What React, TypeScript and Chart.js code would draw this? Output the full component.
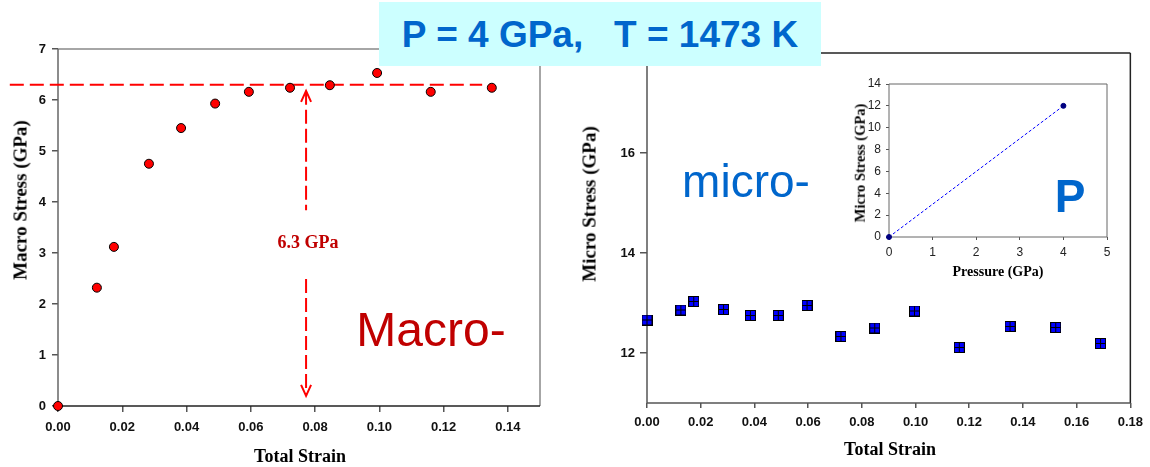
import React, { useEffect, useRef } from 'react';
import { Chart, registerables } from 'chart.js';

Chart.register(...registerables);

// Macro stress vs. total strain (left panel)
const macroStrain = [0, 0.0121, 0.0174, 0.0283, 0.0383, 0.0489, 0.0594, 0.0722, 0.0846, 0.0993, 0.116, 0.135];
const macroStress = [0, 2.32, 3.12, 4.75, 5.45, 5.93, 6.16, 6.24, 6.29, 6.53, 6.16, 6.24];
const macroStrainTicks = [0, 0.02, 0.04, 0.06, 0.08, 0.1, 0.12, 0.14];
const macroStressTicks = [0, 1, 2, 3, 4, 5, 6, 7];

// Saturation level guide and the arrow marking it
const macroLevel = 6.3;
const levelStrainSpan = [-0.015, 0.132];
const arrowStrain = 0.0772;
const arrowStress = [6.18, 3.84, 2.49, 0.2]; // tip, break start, break end, tip

// Micro stress vs. total strain (right panel)
const microStrain = [0, 0.0126, 0.0174, 0.0285, 0.0385, 0.0489, 0.0596, 0.0722, 0.0848, 0.0996, 0.1163, 0.1352, 0.1522, 0.1689];
const microStress = [12.66, 12.86, 13.03, 12.87, 12.75, 12.75, 12.95, 12.33, 12.5, 12.84, 12.11, 12.53, 12.51, 12.19];
const microStrainTicks = [0, 0.02, 0.04, 0.06, 0.08, 0.1, 0.12, 0.14, 0.16, 0.18];
const microStressTicks = [12, 14, 16, 18];

// Inset: micro stress vs. pressure
const pressure = [0, 4];
const pressureStress = [0, 12];
const pressureTicks = [0, 1, 2, 3, 4, 5];
const insetStressTicks = [0, 2, 4, 6, 8, 10, 12, 14];

const SANS = 'Arial, "Liberation Sans", Helvetica, sans-serif';
const SERIF = '"Times New Roman", "Liberation Serif", Times, serif';

const tickFont = { family: SANS, size: 13, weight: 'bold' as const };
const insetTickFont = { family: SANS, size: 12, weight: 'normal' as const };

type Sides = { top: string; right: string; bottom: string; left: string; width: number };

// Draws a box around the plotting area before the marks are painted
function framePlugin(s: Sides) {
  return {
    id: 'frame',
    beforeDatasetsDraw(chart: any) {
      const { ctx, chartArea: a } = chart;
      const seg = (x1: number, y1: number, x2: number, y2: number, c: string) => {
        ctx.beginPath();
        ctx.strokeStyle = c;
        ctx.lineWidth = s.width;
        ctx.moveTo(x1, y1);
        ctx.lineTo(x2, y2);
        ctx.stroke();
      };
      ctx.save();
      seg(a.left, a.top, a.right, a.top, s.top);
      seg(a.right, a.top, a.right, a.bottom, s.right);
      seg(a.left, a.bottom, a.right, a.bottom, s.bottom);
      seg(a.left, a.top, a.left, a.bottom, s.left);
      ctx.restore();
    },
  };
}

// Open arrow heads at both ends of the vertical guide
const arrowHeadPlugin = {
  id: 'arrowHeads',
  afterDatasetsDraw(chart: any) {
    const { ctx, scales } = chart;
    const x = scales.x.getPixelForValue(arrowStrain);
    const yTop = scales.y.getPixelForValue(arrowStress[0]);
    const yBot = scales.y.getPixelForValue(arrowStress[arrowStress.length - 1]);
    ctx.save();
    ctx.strokeStyle = '#ff0000';
    ctx.lineWidth = 2;
    ctx.beginPath();
    ctx.moveTo(x - 5, yTop + 11);
    ctx.lineTo(x, yTop);
    ctx.lineTo(x + 5, yTop + 11);
    ctx.moveTo(x - 5, yBot - 11);
    ctx.lineTo(x, yBot);
    ctx.lineTo(x + 5, yBot - 11);
    ctx.stroke();
    ctx.restore();
  },
};

// Blue square marker split into four cells by black lines
function gridSquare(size: number) {
  const c = document.createElement('canvas');
  c.width = size;
  c.height = size;
  const g = c.getContext('2d')!;
  g.fillStyle = '#000000';
  g.fillRect(0, 0, size, size);
  const cell = (size - 3) / 2;
  g.fillStyle = '#0000ff';
  g.fillRect(1, 1, cell, cell);
  g.fillRect(2 + cell, 1, cell, cell);
  g.fillRect(1, 2 + cell, cell, cell);
  g.fillRect(2 + cell, 2 + cell, cell, cell);
  return c;
}

const points = (xs: number[], ys: (number | null)[]) => xs.map((x, i) => ({ x, y: ys[i] }));
const fixedTicks = (values: number[]) => (s: any) => {
  s.ticks = values.map((value) => ({ value }));
};

type TextSpec = {
  text: string;
  x: number;
  y: number;
  size: number;
  family: string;
  weight?: string;
  color: string;
  rotate?: boolean;
};

const texts: TextSpec[] = [
  { text: 'Macro Stress (GPa)', x: 20, y: 200, size: 19, family: SERIF, weight: 'bold', color: '#000', rotate: true },
  { text: 'Total Strain', x: 300, y: 456, size: 18, family: SERIF, weight: 'bold', color: '#000' },
  { text: '6.3 GPa', x: 308, y: 242, size: 18, family: SERIF, weight: 'bold', color: '#c00000' },
  { text: 'Macro-', x: 431, y: 330, size: 48, family: SANS, color: '#c00000' },
  { text: 'Micro Stress (GPa)', x: 589, y: 204, size: 19, family: SERIF, weight: 'bold', color: '#000', rotate: true },
  { text: 'Total Strain', x: 890, y: 449, size: 18, family: SERIF, weight: 'bold', color: '#000' },
  { text: 'micro-', x: 746, y: 181, size: 46, family: SANS, color: '#0066cc' },
  { text: 'Micro Stress (GPa)', x: 860, y: 163, size: 14.5, family: SERIF, weight: 'bold', color: '#000', rotate: true },
  { text: 'Pressure (GPa)', x: 998, y: 272, size: 14, family: SERIF, weight: 'bold', color: '#000' },
  { text: 'P', x: 1070, y: 196, size: 46, family: SANS, weight: 'bold', color: '#0066cc' },
];

function Label({ t }: { t: TextSpec }) {
  return (
    <div
      style={{
        position: 'absolute',
        left: t.x,
        top: t.y,
        transform: `translate(-50%, -50%)${t.rotate ? ' rotate(-90deg)' : ''}`,
        fontFamily: t.family,
        fontSize: t.size,
        fontWeight: t.weight || 'normal',
        color: t.color,
        lineHeight: 1,
        whiteSpace: 'pre',
      }}
    >
      {t.text}
    </div>
  );
}

export default function App() {
  const macroRef = useRef<HTMLCanvasElement>(null);
  const microRef = useRef<HTMLCanvasElement>(null);
  const insetRef = useRef<HTMLCanvasElement>(null);

  useEffect(() => {
    const marker = gridSquare(11);

    const macro = new Chart(macroRef.current!, {
      type: 'scatter',
      data: {
        datasets: [
          {
            data: points(macroStrain, macroStress),
            pointRadius: 4.5,
            pointBackgroundColor: '#ff0000',
            pointBorderColor: '#000000',
            pointBorderWidth: 1,
            clip: false,
          },
          {
            data: points(levelStrainSpan, levelStrainSpan.map(() => macroLevel)),
            showLine: true,
            borderColor: '#ff0000',
            borderWidth: 2,
            borderDash: [14, 6],
            pointRadius: 0,
            clip: false,
          },
          {
            data: [
              { x: arrowStrain, y: arrowStress[0] },
              { x: arrowStrain, y: arrowStress[1] },
              { x: arrowStrain, y: null },
              { x: arrowStrain, y: arrowStress[2] },
              { x: arrowStrain, y: arrowStress[3] },
            ],
            showLine: true,
            spanGaps: false,
            borderColor: '#ff0000',
            borderWidth: 2,
            borderDash: [14, 5],
            pointRadius: 0,
            clip: false,
          },
        ] as any,
      },
      options: {
        animation: false,
        responsive: false,
        layout: { padding: { top: 49, right: 20, left: 0, bottom: 0 } },
        plugins: { legend: { display: false }, tooltip: { enabled: false } },
        scales: {
          x: {
            type: 'linear',
            min: 0,
            max: 0.15,
            ticks: {
              font: tickFont,
              color: '#111',
              padding: 8,
              maxRotation: 0,
              autoSkip: false,
              callback: (v: any) => Number(v).toFixed(2),
            },
            grid: { drawOnChartArea: false, tickLength: 6, color: '#555', lineWidth: 1.5 },
            border: { display: false },
            afterBuildTicks: fixedTicks(macroStrainTicks),
            afterFit: (s: any) => {
              s.height = 61;
            },
          },
          y: {
            min: 0,
            max: 7,
            ticks: { font: tickFont, color: '#111', padding: 6 },
            grid: { drawOnChartArea: false, tickLength: 6, color: '#555', lineWidth: 1.5 },
            border: { display: false },
            afterBuildTicks: fixedTicks(macroStressTicks),
            afterFit: (s: any) => {
              s.width = 58;
            },
          },
        },
      } as any,
      plugins: [
        framePlugin({ top: '#888888', right: '#888888', bottom: '#222222', left: '#666666', width: 1.5 }),
        arrowHeadPlugin,
      ],
    });

    const micro = new Chart(microRef.current!, {
      type: 'scatter',
      data: {
        datasets: [
          {
            data: points(microStrain, microStress),
            pointStyle: marker,
            pointRadius: 5.5,
            clip: false,
          },
        ] as any,
      },
      options: {
        animation: false,
        responsive: false,
        layout: { padding: { top: 53, right: 17, left: 0, bottom: 0 } },
        plugins: { legend: { display: false }, tooltip: { enabled: false } },
        scales: {
          x: {
            type: 'linear',
            min: 0,
            max: 0.18,
            ticks: {
              font: tickFont,
              color: '#111',
              padding: 7,
              maxRotation: 0,
              autoSkip: false,
              callback: (v: any) => Number(v).toFixed(2),
            },
            grid: { drawOnChartArea: false, tickLength: 5, color: '#555', lineWidth: 1.5 },
            border: { display: false },
            afterBuildTicks: fixedTicks(microStrainTicks),
            afterFit: (s: any) => {
              s.height = 64;
            },
          },
          y: {
            min: 11,
            max: 18,
            ticks: { font: tickFont, color: '#111', padding: 5 },
            grid: { drawOnChartArea: false, tickLength: 7, color: '#555', lineWidth: 1.5 },
            border: { display: false },
            afterBuildTicks: fixedTicks(microStressTicks),
            afterFit: (s: any) => {
              s.width = 87;
            },
          },
        },
      } as any,
      plugins: [framePlugin({ top: '#222222', right: '#222222', bottom: '#555555', left: '#555555', width: 1.5 })],
    });

    const inset = new Chart(insetRef.current!, {
      type: 'scatter',
      data: {
        datasets: [
          {
            data: points(pressure, pressureStress),
            showLine: true,
            borderColor: '#0000ff',
            borderWidth: 1,
            borderDash: [3, 2],
            pointRadius: 2.5,
            pointBackgroundColor: '#000080',
            pointBorderColor: '#000080',
            clip: false,
          },
        ] as any,
      },
      options: {
        animation: false,
        responsive: false,
        layout: { padding: { top: 24, right: 33, left: 0, bottom: 0 } },
        plugins: { legend: { display: false }, tooltip: { enabled: false } },
        scales: {
          x: {
            type: 'linear',
            min: 0,
            max: 5,
            ticks: { font: insetTickFont, color: '#222', padding: 5, maxRotation: 0 },
            grid: { drawOnChartArea: false, tickLength: 3, color: '#555' },
            border: { display: false },
            afterBuildTicks: fixedTicks(pressureTicks),
            afterFit: (s: any) => {
              s.height = 53;
            },
          },
          y: {
            min: 0,
            max: 14,
            ticks: { font: insetTickFont, color: '#222', padding: 5 },
            grid: { drawOnChartArea: false, tickLength: 3, color: '#555' },
            border: { display: false },
            afterBuildTicks: fixedTicks(insetStressTicks),
            afterFit: (s: any) => {
              s.width = 49;
            },
          },
        },
      } as any,
      plugins: [framePlugin({ top: '#666666', right: '#666666', bottom: '#666666', left: '#666666', width: 1 })],
    });

    return () => {
      macro.destroy();
      micro.destroy();
      inset.destroy();
    };
  }, []);

  return (
    <div style={{ position: 'absolute', left: 0, top: 0, width: 1150, height: 467, background: '#ffffff', overflow: 'hidden' }}>
      <canvas ref={macroRef} width={560} height={467} style={{ position: 'absolute', left: 0, top: 0 }} />
      <canvas ref={microRef} width={590} height={467} style={{ position: 'absolute', left: 560, top: 0 }} />
      <canvas ref={insetRef} width={300} height={230} style={{ position: 'absolute', left: 840, top: 60 }} />
      {texts.map((t, i) => (
        <Label key={i} t={t} />
      ))}
      <div
        style={{
          position: 'absolute',
          left: 379,
          top: 2,
          width: 442,
          height: 64,
          background: '#ccffff',
          display: 'flex',
          alignItems: 'center',
          justifyContent: 'center',
          fontFamily: SANS,
          fontWeight: 'bold',
          fontSize: 37,
          lineHeight: 1,
          color: '#0066cc',
          whiteSpace: 'pre',
        }}
      >
        {'P = 4 GPa,   T = 1473 K'}
      </div>
    </div>
  );
}
